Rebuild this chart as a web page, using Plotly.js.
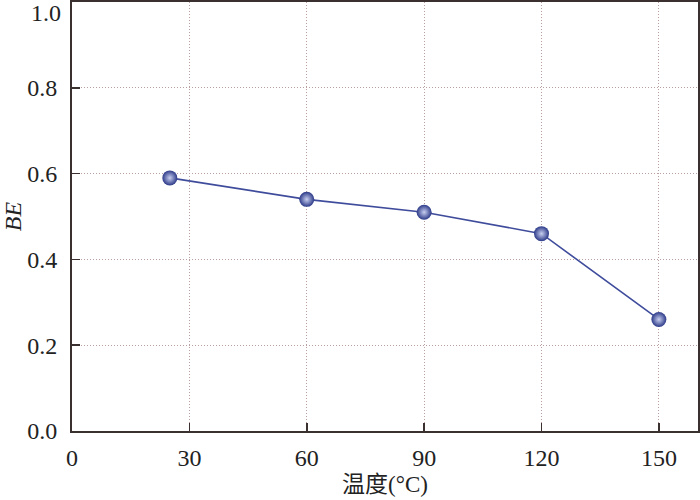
<!DOCTYPE html>
<html>
<head>
<meta charset="utf-8">
<script src="https://cdn.plot.ly/plotly-3.0.1.min.js"></script>
<style>html,body{margin:0;padding:0;background:#fff;}#chart{width:700px;height:500px;}</style>
</head>
<body>
<div id="chart"></div>
<script>
var temperature = [25, 60, 90, 120, 150];
var beValues = [0.59, 0.54, 0.51, 0.46, 0.26];
var xTickVals = [0, 30, 60, 90, 120, 150];
var yTickVals = [0.0, 0.2, 0.4, 0.6, 0.8, 1.0];
var yTickText = ['0.0', '0.2', '0.4', '0.6', '0.8', '1.0'];

var trace = {
  x: temperature,
  y: beValues,
  mode: 'lines+markers',
  type: 'scatter',
  line: {color: '#3f4c9c', width: 1.6},
  marker: {
    size: 15,
    color: '#2c3a88',
    gradient: {type: 'radial', color: '#c8cff0'},
    line: {width: 0}
  },
  cliponaxis: false,
  showlegend: false
};

var axisFont = {family: 'Liberation Serif, Times New Roman, serif', size: 24, color: '#222'};

// the top label (1.0) is drawn as an annotation so it can sit just below the frame's top edge
var lastIdx = yTickVals.length - 1;
var shownTickText = yTickText.map(function (t, i) { return i === lastIdx ? '' : t; });

var layout = {
  width: 700,
  height: 500,
  margin: {l: 72, r: 2, t: 2, b: 69},
  paper_bgcolor: '#fff',
  plot_bgcolor: '#fff',
  xaxis: {
    range: [0, 160],
    tickvals: xTickVals,
    ticktext: xTickVals.map(String),
    ticks: 'inside',
    ticklen: 8,
    tickwidth: 1.5,
    tickcolor: '#3a3030',
    showline: true,
    linecolor: '#3a3030',
    linewidth: 2,
    mirror: true,
    showgrid: true,
    gridcolor: '#b8a0a0',
    gridwidth: 1,
    griddash: '1px,2px',
    zeroline: false,
    tickfont: axisFont,
    ticklabeloverflow: 'allow',
    ticklabelstandoff: 4,
    title: {text: '温度(°C)', font: {family: 'Liberation Serif, Noto Sans CJK SC, serif', size: 23, color: '#222'}, standoff: 6}
  },
  yaxis: {
    range: [0, 1.0],
    tickvals: yTickVals,
    ticktext: shownTickText,
    ticks: 'inside',
    ticklen: 8,
    tickwidth: 1.5,
    tickcolor: '#3a3030',
    showline: true,
    linecolor: '#3a3030',
    linewidth: 2,
    mirror: true,
    showgrid: true,
    gridcolor: '#b8a0a0',
    gridwidth: 1,
    griddash: '1px,2px',
    zeroline: false,
    tickfont: axisFont,
    ticklabeloverflow: 'allow',
    ticklabelstandoff: 8,
    title: {text: '<i>BE</i>', font: axisFont, standoff: 6}
  },
  annotations: [{
    x: 0, xref: 'paper', xanchor: 'right', xshift: -9,
    y: yTickVals[lastIdx], yref: 'y', yanchor: 'top', yshift: 4,
    text: yTickText[lastIdx], showarrow: false, font: axisFont
  }]
};

Plotly.newPlot('chart', [trace], layout, {displayModeBar: false, staticPlot: true});
</script>
</body>
</html>
